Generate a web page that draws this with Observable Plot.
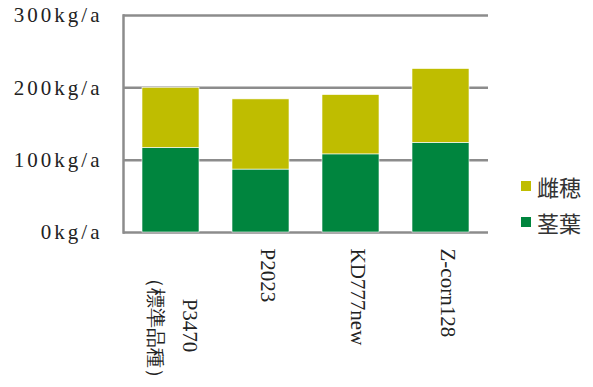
<!DOCTYPE html>
<html>
<head>
<meta charset="utf-8">
<script src="https://cdn.jsdelivr.net/npm/d3@7"></script>
<script src="https://cdn.jsdelivr.net/npm/@observablehq/plot@0.6"></script>
<style>
  body { margin: 0; background: #fff; }
  #wrap { position: relative; width: 593px; height: 387px; overflow: hidden; }
  #chart { position: absolute; left: 0; top: 0; }
  #legend { position: absolute; left: 521px; top: 168px; width: 72px; }
  #legend .lg-swatches { font-family: "Noto Sans CJK JP", sans-serif !important; font-size: 22px !important; color: #333 !important; margin: 0 !important; }
  #legend .lg-swatch { height: 36px !important; margin: 0 !important; padding: 0 !important; display: flex !important; align-items: center !important; }
  #legend .lg-swatch svg { margin-right: 6px !important; }
  #legend .lg-swatch div, #legend .lg-swatch span { overflow: visible !important; }
  #chart svg text { font-family: "Liberation Serif", "Tinos", "DejaVu Serif", serif !important; }
  g[aria-label="y-axis tick label"] text, g[aria-label="cat-label"] text { letter-spacing: 3px; }
</style>
</head>
<body>
<div id="wrap"><div id="chart"></div><div id="legend"></div></div>
<script>
const categories = ["P3470", "P2023", "KD777new", "Z-corn128"];
const subLabels = ["（標準品種）", "", "", ""];
const stalkLeaf = [117, 87, 108, 124]; // 茎葉
const ear = [83, 97, 82, 102];         // 雌穂
const seriesNames = ["雌穂", "茎葉"];
const seriesColors = ["#BFBD00", "#00853E"];
const yTicks = [0, 100, 200, 300];
const tickUnit = "kg/a";

const data = categories.flatMap((c, i) => [
  {cat: c, series: "茎葉", value: stalkLeaf[i]},
  {cat: c, series: "雌穂", value: ear[i]}
]);
const mainFirst = [{cat: categories[0]}];
const mainRest = categories.slice(1).map(c => ({cat: c}));
const subFirst = [{cat: categories[0], label: subLabels[0]}];

const gridColor = "#8C8C8C";

const chart = Plot.plot({
  width: 593,
  height: 387,
  marginLeft: 123,
  marginRight: 105,
  marginTop: 15,
  marginBottom: 155,
  style: {background: "#fff", color: "#222"},
  x: {domain: categories, paddingInner: 0.363, paddingOuter: 0.187, axis: null},
  y: {domain: [0, 300], axis: null, label: null},
  color: {domain: seriesNames, range: seriesColors},
  marks: [
    Plot.ruleY(yTicks, {stroke: gridColor, strokeWidth: 2.5}),
    Plot.frame({anchor: "left", stroke: gridColor, strokeWidth: 2.5}),
    Plot.barY(data, {x: "cat", y: "value", fill: "series", stroke: "#fff", strokeWidth: 0.6}),
    Plot.axisY({ticks: yTicks, label: null, tickSize: 0, tickPadding: 21, tickFormat: d => d + tickUnit, fontSize: 21, fill: "#222"}),
    Plot.text(mainRest, {x: "cat", text: "cat", frameAnchor: "bottom", rotate: 90, textAnchor: "start", dy: 16, fontSize: 21, fill: "#222", ariaLabel: "cat-label"}),
    Plot.text(mainFirst, {x: "cat", text: "cat", frameAnchor: "bottom", rotate: 90, textAnchor: "middle", dy: 93, dx: 12, fontSize: 21, fill: "#222", ariaLabel: "cat-label"}),
    Plot.text(subFirst, {x: "cat", text: "label", frameAnchor: "bottom", rotate: 90, textAnchor: "middle", dy: 95, dx: -22, fontSize: 20, fill: "#222"})
  ]
});
document.getElementById("chart").appendChild(chart);

const legend = Plot.legend({
  color: {domain: seriesNames, range: seriesColors},
  legend: "swatches",
  columns: 1,
  swatchSize: 10,
  className: "lg"
});
document.getElementById("legend").appendChild(legend);
</script>
</body>
</html>
